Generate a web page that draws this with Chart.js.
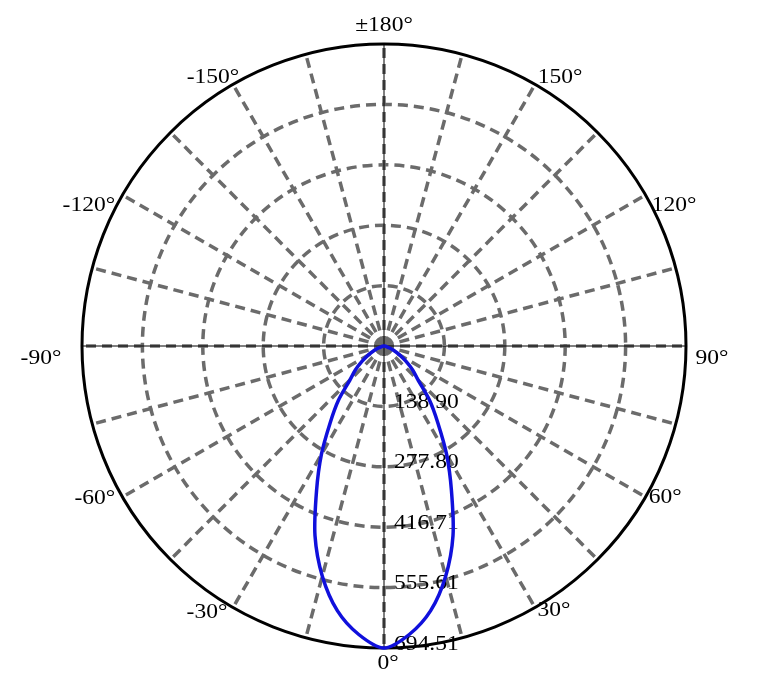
<!DOCTYPE html>
<html>
<head>
<meta charset="utf-8">
<script src="https://cdn.jsdelivr.net/npm/chart.js@4.4.0/dist/chart.umd.min.js"></script>
<style>
  html, body { margin: 0; padding: 0; background: #fff; }
</style>
</head>
<body>
<canvas id="polar" width="776" height="698"></canvas>
<script>
// angle of each spoke, top first, going clockwise (5 degree steps)
const angles = [
  180, 175, 170, 165, 160, 155, 150, 145, 140, 135, 130, 125,
  120, 115, 110, 105, 100, 95, 90, 85, 80, 75, 70, 65,
  60, 55, 50, 45, 40, 35, 30, 25, 20, 15, 10, 5,
  0, -5, -10, -15, -20, -25, -30, -35, -40, -45, -50, -55,
  -60, -65, -70, -75, -80, -85, -90, -95, -100, -105, -110, -115,
  -120, -125, -130, -135, -140, -145, -150, -155, -160, -165, -170, -175
];

// luminous intensity, same order as angles
const intensity = [
  0, 0, 0, 0, 0, 0, 0, 0, 0, 0, 0, 0,
  0, 0, 0, 0, 0, 0, 0, 1, 3, 7, 14, 26,
  42, 62, 86, 111, 163, 216, 288, 367, 464, 548, 618, 666,
  694.51, 666, 618, 548, 464, 367, 288, 216, 163, 111, 86, 62,
  42, 26, 14, 7, 3, 1, 0, 0, 0, 0, 0, 0,
  0, 0, 0, 0, 0, 0, 0, 0, 0, 0, 0, 0
];

const angleLabels = ['±180°', '150°', '120°', '90°', '60°', '30°', '0°', '-30°', '-60°', '-90°', '-120°', '-150°'];
const ringValues = [138.90, 277.80, 416.71, 555.61, 694.51];
const ringLabels = ['138.90', '277.80', '416.71', '555.61', '694.51'];
const maxValue = 694.51;

// nudges for the angle labels (px), same order as angleLabels
const labelShift = [
  [0, -1], [16, 9], [13, 19], [8, 12], [4, -9], [10, -13],
  [4, -3], [-17, -11], [-12, -8], [-23, 12], [-18, 19], [-11, 9]
];

const GRAY = '#6b6b6b';
const FONT = '21px "Liberation Serif", "Times New Roman", serif';

function drawText(ctx, text, x, y, align) {
  ctx.save();
  ctx.translate(x, y);
  ctx.scale(1.12, 1);
  ctx.textAlign = align;
  ctx.fillText(text, 0, 0);
  ctx.restore();
}

const polarText = {
  id: 'polarText',
  beforeDatasetsDraw(chart) {
    const s = chart.scales.r;
    const ctx = chart.ctx;
    ctx.save();
    // thin solid axes through the center
    ctx.strokeStyle = '#000';
    ctx.lineWidth = 1;
    [0, 18].forEach(i => {
      const a = s.getPointPosition(i, s.drawingArea);
      const b = s.getPointPosition(i + 36, s.drawingArea);
      ctx.beginPath();
      ctx.moveTo(a.x, a.y);
      ctx.lineTo(b.x, b.y);
      ctx.stroke();
    });
    ctx.fillStyle = '#000';
    ctx.font = FONT;
    ctx.textBaseline = 'middle';
    ringValues.forEach((v, k) => {
      const d = s.getDistanceFromCenterForValue(v);
      drawText(ctx, ringLabels[k], s.xCenter + 10, s.yCenter + d - 4, 'left');
    });
    ctx.restore();
  },
  afterDraw(chart) {
    const s = chart.scales.r;
    const ctx = chart.ctx;
    ctx.save();
    ctx.fillStyle = '#000';
    ctx.font = FONT;
    ctx.textBaseline = 'middle';
    angleLabels.forEach((lab, k) => {
      const p = s.getPointPosition(k * 6, s.drawingArea + 18);
      drawText(ctx, lab, p.x + labelShift[k][0], p.y + labelShift[k][1], 'center');
    });
    ctx.restore();
  }
};

new Chart(document.getElementById('polar'), {
  type: 'radar',
  data: {
    labels: angles.map(a => a + '°'),
    datasets: [{
      data: intensity,
      borderColor: '#1010dc',
      borderWidth: 3.5,
      pointRadius: 0,
      fill: false,
      tension: 0.3
    }]
  },
  options: {
    responsive: false,
    animation: false,
    layout: { padding: { left: 82, right: 90, top: 44, bottom: 50 } },
    plugins: { legend: { display: false }, tooltip: { enabled: false } },
    scales: {
      r: {
        min: 0,
        max: maxValue,
        ticks: { display: false, stepSize: maxValue / 5 },
        pointLabels: { display: false },
        grid: {
          circular: true,
          color: c => c.index === 5 ? '#000' : GRAY,
          lineWidth: c => c.index === 5 ? 3 : 3.5
        },
        border: { dash: c => c.index === 5 ? [] : [10, 6] },
        angleLines: {
          color: GRAY,
          lineWidth: c => c.index % 3 === 0 ? 3.5 : 0,
          borderDash: [10, 6]
        }
      }
    }
  },
  plugins: [polarText]
});
</script>
</body>
</html>
